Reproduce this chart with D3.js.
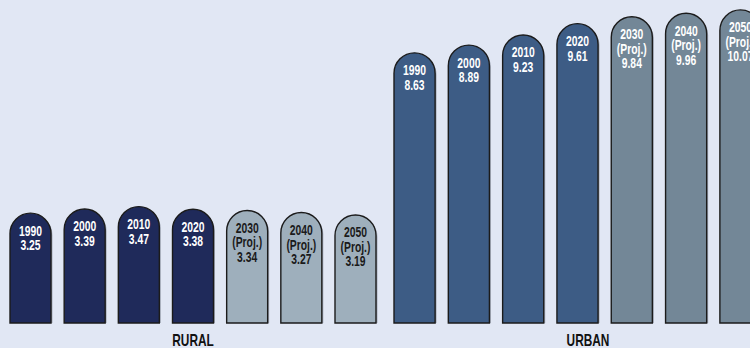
<!DOCTYPE html>
<html lang="en">
<head>
<meta charset="UTF-8">
<title>Rural and urban</title>
<script src="https://d3js.org/d3.v7.min.js"></script>
<style>
  html, body { margin: 0; padding: 0; background: #e1e7f4; }
  svg { display: block; }
  text { font-family: "Liberation Sans", Arial, sans-serif; font-weight: bold; text-anchor: middle; }
</style>
</head>
<body>
<div id="chart"></div>
<script>
// data
const years = ["1990", "2000", "2010", "2020", "2030", "2040", "2050"];
const projected = [false, false, false, false, true, true, true];
const ruralValues = [3.25, 3.39, 3.47, 3.38, 3.34, 3.27, 3.19];
const urbanValues = [8.63, 8.89, 9.23, 9.61, 9.84, 9.96, 10.07];
const groups = ["RURAL", "URBAN"];

const width = 750, height = 348;
const base = 323;
const squeeze = 0.74; // narrow the glyphs, condensed look

const svg = d3.select("#chart").append("svg")
  .attr("width", width)
  .attr("height", height);

// value scale: top of the rounded bar
const y = d3.scaleLinear().domain([0, 10]).range([310, 12]);

const xRural = d3.scaleBand().domain(years).range([10, 376]).paddingInner(0.243).paddingOuter(0);
const xUrban = d3.scaleBand().domain(years).range([394, 761]).paddingInner(0.243).paddingOuter(0);

const colors = {
  RURAL: { actual: "#1f2a5a", proj: "#9eafbc", textActual: "#ffffff", textProj: "#1a1a1a" },
  URBAN: { actual: "#3d5c85", proj: "#738797", textActual: "#ffffff", textProj: "#ffffff" }
};

function barPath(x0, top, w) {
  const r = w / 2;
  return `M${x0},${base} L${x0},${top + r} A${r},${r} 0 0 1 ${x0 + w},${top + r} L${x0 + w},${base} Z`;
}

function drawGroup(name, values, x, labelX) {
  const data = years.map((yr, i) => ({ year: yr, value: values[i], proj: projected[i] }));
  const g = svg.append("g");
  const w = x.bandwidth();

  // soft shadow
  g.selectAll("path.shadow").data(data).enter().append("path")
    .attr("class", "shadow")
    .attr("d", d => barPath(x(d.year) + 1.5, y(d.value) + 1.5, w))
    .attr("fill", "#7f8796")
    .attr("opacity", 0.6);

  g.selectAll("path.bar").data(data).enter().append("path")
    .attr("class", "bar")
    .attr("d", d => barPath(x(d.year), y(d.value), w))
    .attr("fill", d => d.proj ? colors[name].proj : colors[name].actual)
    .attr("stroke", "#1b1b1b")
    .attr("stroke-width", 1.4);

  g.selectAll("g.lab").data(data).enter().append("g")
    .attr("class", "lab")
    .attr("transform", d => `translate(${x(d.year) + w / 2},${y(d.value) + 22.5}) scale(${squeeze},1)`)
    .append("text")
    .attr("font-size", 14)
    .attr("fill", d => d.proj ? colors[name].textProj : colors[name].textActual)
    .each(function(d) {
      const lines = d.proj ? [d.year, "(Proj.)", d.value.toFixed(2)] : [d.year, d.value.toFixed(2)];
      d3.select(this).selectAll("tspan").data(lines).enter().append("tspan")
        .attr("x", 0)
        .attr("dy", (l, i) => i === 0 ? 0 : 14.5)
        .text(l => l);
    });

  svg.append("g")
    .attr("transform", `translate(${labelX},346) scale(0.72,1)`)
    .append("text")
    .attr("font-size", 16.5)
    .attr("fill", "#111")
    .text(name);
}

drawGroup(groups[0], ruralValues, xRural, 193);
drawGroup(groups[1], urbanValues, xUrban, 588);
</script>
</body>
</html>
